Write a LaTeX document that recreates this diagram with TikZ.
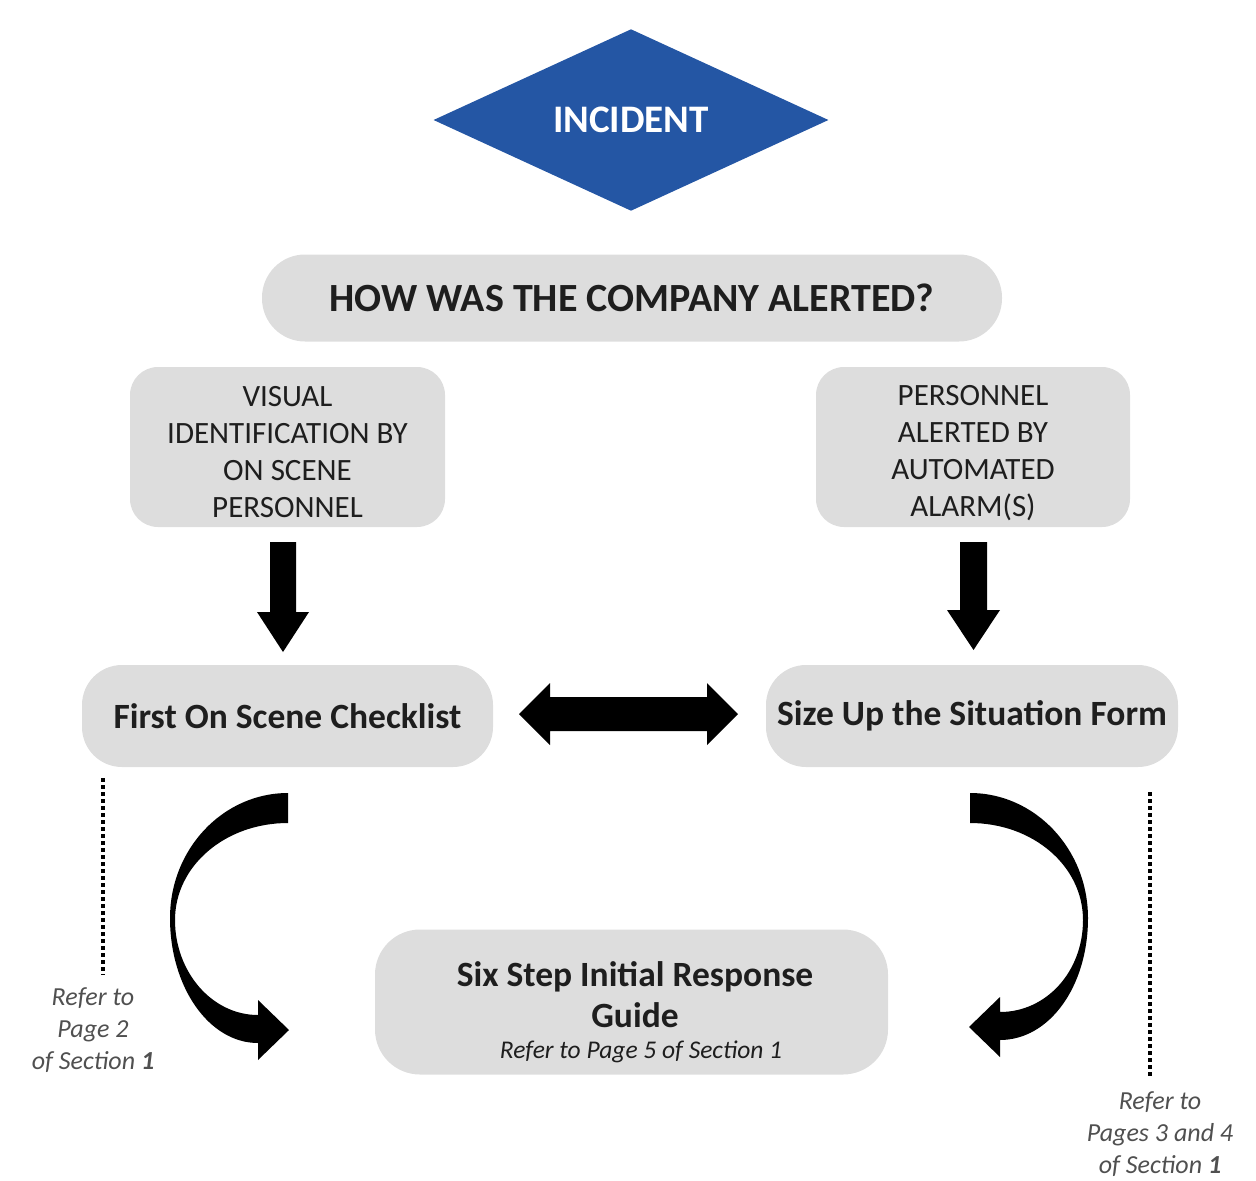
\documentclass[tikz,border=0pt]{standalone}
\usepackage{fontspec}
\setmainfont{Carlito}
\usetikzlibrary{shapes.geometric}
\definecolor{incblue}{RGB}{36,86,164}
\definecolor{boxgray}{RGB}{221,221,221}
\definecolor{txt}{RGB}{30,30,30}
\definecolor{notegray}{RGB}{80,80,80}
\begin{document}
\begin{tikzpicture}[x=1pt,y=-1pt,
  box/.style={fill=boxgray,draw=none,text=txt,align=center,inner sep=0pt},
  capsfont/.style={font=\fontsize{31}{37}\selectfont},
  boldfont/.style={font=\fontsize{35.5}{41}\selectfont\bfseries},
  note/.style={text=notegray,align=center,inner sep=0pt,font=\fontsize{26}{32}\selectfont\itshape},
  blockarrow/.style={fill=black,draw=none},
  dotline/.style={line width=3.5pt,dash pattern=on 3.5pt off 3.5pt,draw=black}]
\useasboundingbox (0,0) rectangle (1256,1181);

% INCIDENT diamond
\node[diamond,fill=incblue,text=white,minimum width=395pt,minimum height=176pt,inner sep=0pt,
  font=\fontsize{39}{42}\selectfont\bfseries] (inc) at (631,120) {INCIDENT};

% Question pill
\node[box,minimum width=740pt,minimum height=87pt,rounded corners=43pt,
  font=\fontsize{40}{44}\selectfont\bfseries] (how) at (632,298) {HOW WAS THE COMPANY ALERTED?};

% Alert method boxes
\node[box,minimum width=315pt,minimum height=160pt,rounded corners=28pt] (vis) at (287.5,447) {};
\node[capsfont,text=txt,align=center,inner sep=0pt] (vist) at (287.5,452)
  {VISUAL\\IDENTIFICATION BY\\ON SCENE\\PERSONNEL};
\node[box,minimum width=314pt,minimum height=160pt,rounded corners=28pt] (pers) at (973,447) {};
\node[capsfont,text=txt,align=center,inner sep=0pt] (perst) at (973,453)
  {PERSONNEL\\ALERTED BY\\AUTOMATED\\ALARM(S)};

% Forms
\node[box,boldfont,minimum width=411pt,minimum height=102pt,rounded corners=40pt] (first) at (287.5,716)
  {First On Scene Checklist};
\node[box,boldfont,minimum width=412pt,minimum height=102pt,rounded corners=40pt] (size) at (972,716)
  {Size Up the Situation Form};

% Six step guide
\node[box,minimum width=513pt,minimum height=145pt,rounded corners=45pt] (six) at (631.5,1002) {};
\node[text=txt,align=center,boldfont,anchor=base] (sixt) at (635,1027)
  {Six Step Initial Response\\Guide};
\node[text=txt,font=\fontsize{25.5}{28}\selectfont\itshape,anchor=base] (sixr) at (641,1058)
  {Refer to Page 5 of Section 1};

% Notes
\node[note,anchor=north] (noteL) at (93,987) {Refer to\\Page 2\\of Section \textbf{1}};
\node[note,anchor=north] (noteR) at (1160,1091) {Refer to\\Pages 3 and 4\\of Section \textbf{1}};

% dotted lines
\coordinate (dL) at (103,778);
\coordinate (dR) at (1150,792);
\draw[dotline] (dL) -- ([yshift=12pt]dL |- noteL.north);
\draw[dotline] (dR) -- ([yshift=13pt]dR |- noteR.north);

% straight down arrows
\coordinate (aL) at (283,542);
\coordinate (aR) at (973.5,542);
\fill[blockarrow] (aL) ++(-13,0) -- ++(26,0) -- ++(0,70) -- ++(13,0) -- ++(-26,40) -- ++(-26,-40) -- ++(13,0) -- cycle;
\fill[blockarrow] (aR) ++(-13.5,0) -- ++(27,0) -- ++(0,68) -- ++(13,0) -- ++(-26.5,40) -- ++(-26.5,-40) -- ++(13,0) -- cycle;

% double arrow
\coordinate (dbl) at (628,714);
\fill[blockarrow] (dbl) ++(-109,0) -- ++(31,-31) -- ++(0,14) -- ++(157,0) -- ++(0,-14) -- ++(31,31)
  -- ++(-31,31) -- ++(0,-14) -- ++(-157,0) -- ++(0,14) -- cycle;

% curved arrows
\fill[blockarrow] (288,793) .. controls (223,793) and (170,849) .. (170,918)
  .. controls (170,987) and (209,1043) .. (258,1043)
  -- (258,1060) -- (289,1030) -- (258,1000) -- (258,1015)
  .. controls (212,1015) and (175,972) .. (175,920)
  .. controls (175,866) and (225,823) .. (288,823) -- cycle;
\fill[blockarrow] (970,793) .. controls (1035,793) and (1088,849) .. (1088,918)
  .. controls (1088,987) and (1049,1040) .. (1000,1040)
  -- (1000,1057) -- (969,1027) -- (1000,997) -- (1000,1012)
  .. controls (1046,1012) and (1083,972) .. (1083,920)
  .. controls (1083,866) and (1033,823) .. (970,823) -- cycle;
\end{tikzpicture}
\end{document}
